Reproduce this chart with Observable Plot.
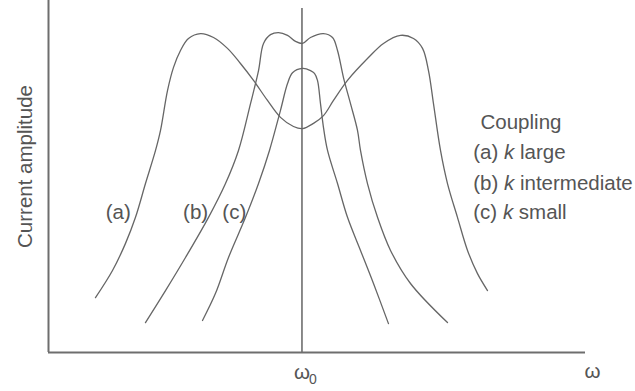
<!DOCTYPE html>
<html><head><meta charset="utf-8">
<script src="https://cdn.jsdelivr.net/npm/d3@7"></script>
<script src="https://cdn.jsdelivr.net/npm/@observablehq/plot@0.6"></script>
<style>
html,body{margin:0;padding:0;background:#fff;}
#chart svg{display:block;}
</style></head><body><div id="chart"></div>
<script>
// Frequency axis in arbitrary units (0–100), resonance at omega0
const omega0 = 47.2;
const omega0LineTop = 97.7;

// (a) k large
const omegaA = [8.75, 11.92, 14.34, 16.20, 18.06, 19.93, 20.86, 22.16, 23.28, 24.58, 26.07, 28.31, 30.73, 33.33, 35.75, 38.18, 40.78, 43.20, 45.62, 47.30, 49.35, 51.21, 53.07, 55.68, 59.40, 62.38, 65.55, 67.97, 69.65, 70.76, 71.69, 73.0, 74.30, 76.16, 78.03, 79.89, 81.75];
const ampA   = [15.6, 23.3, 31.0, 38.4, 48.0, 57.4, 63.1, 74.4, 81.0, 85.8, 89.2, 90.6, 89.5, 86.4, 82.1, 77.3, 71.6, 66.8, 64.2, 63.6, 65.1, 67.3, 71.6, 77.3, 83.5, 87.8, 90.1, 89.2, 86.4, 80.1, 70.7, 57.4, 48.0, 38.4, 29.0, 22.4, 17.6];

// (b) k intermediate
const omegaB = [18.06, 21.79, 25.51, 29.80, 32.96, 35.38, 37.62, 39.11, 40.04, 41.34, 42.83, 44.51, 46.00, 47.30, 48.79, 51.21, 52.89, 53.82, 54.93, 56.24, 57.54, 58.10, 59.40, 61.27, 63.69, 67.41, 74.30];
const ampB   = [8.5, 17.6, 27.0, 38.4, 48.0, 57.4, 70.7, 80.1, 87.8, 90.3, 90.9, 90.1, 88.4, 87.8, 89.5, 90.6, 89.5, 85.8, 78.1, 70.7, 63.1, 57.4, 48.0, 38.4, 29.0, 19.6, 8.5];

// (c) k small
const omegaC = [28.68, 31.10, 33.52, 36.69, 39.11, 41.15, 43.20, 44.51, 45.44, 47.30, 48.79, 49.53, 50.09, 50.65, 51.21, 51.96, 53.82, 55.68, 58.10, 60.52, 63.31];
const ampC   = [9.1, 16.8, 27.0, 38.4, 48.0, 57.4, 68.8, 76.4, 79.5, 80.7, 80.1, 79.3, 77.3, 70.7, 63.9, 57.4, 48.0, 38.4, 29.0, 19.6, 8.2];

// Curve labels
const curveNames = ["(a)", "(b)", "(c)"];
const curveLabelOmega = [13.0, 27.4, 34.6];
const curveLabelAmp = [37.8, 37.8, 37.8];

// Legend
const legendLines = ["Coupling", "(a) k large", "(b) k intermediate", "(c) k small"];
const legendOmega = [80.45, 79.1, 79.1, 79.1];
const legendAmp = [63.6, 55.1, 46.3, 37.8];

const yLabel = "Current amplitude";
const xLabel = "ω";
const omega0Label = "ω";
const omega0Sub = "0";

const table = [];
[[curveNames[0], omegaA, ampA], [curveNames[1], omegaB, ampB], [curveNames[2], omegaC, ampC]].forEach(([name, ws, as]) => {
  ws.forEach((w, i) => table.push({curve: name, omega: w, amp: as[i]}));
});
const labelTable = curveNames.map((t, i) => ({t, omega: curveLabelOmega[i], amp: curveLabelAmp[i]}));
const legendTable = legendLines.map((t, i) => ({t, omega: legendOmega[i], amp: legendAmp[i]}));

const lineColor = "#666";
const textColor = "#555";
const fs = 20.5;

const chart = Plot.plot({
  width: 635,
  height: 391,
  marginLeft: 48,
  marginRight: 50,
  marginTop: 0,
  marginBottom: 39,
  x: {domain: [0, 100], axis: null},
  y: {domain: [0, 100], axis: null},
  style: {fontFamily: "'Liberation Sans', Arial, sans-serif", fontSize: fs + "px", background: "#fff", color: textColor},
  marks: [
    Plot.ruleX([0], {stroke: "#6e6e6e", strokeWidth: 2}),
    Plot.ruleY([0], {stroke: "#6e6e6e", strokeWidth: 2}),
    Plot.ruleX([omega0], {y1: 0, y2: omega0LineTop, stroke: "#6e6e6e", strokeWidth: 1.6}),
    Plot.line(table, {x: "omega", y: "amp", z: "curve", curve: "catmull-rom", stroke: lineColor, strokeWidth: 1.3}),
    Plot.text(labelTable, {x: "omega", y: "amp", text: "t", textAnchor: "middle", lineAnchor: "bottom", fill: textColor, fontSize: fs}),
    Plot.text(legendTable, {x: "omega", y: "amp", text: "t", textAnchor: "start", lineAnchor: "bottom", fill: textColor, fontSize: fs, className: "legend-text"}),
    Plot.text([yLabel], {text: d => d, frameAnchor: "left", rotate: -90, dx: -17, dy: -10, lineAnchor: "bottom", textAnchor: "middle", fill: textColor, fontSize: fs}),
    Plot.text([{t: omega0Label, omega: omega0, amp: 0}], {x: "omega", y: "amp", text: "t", dy: 26, lineAnchor: "bottom", textAnchor: "middle", fill: textColor, fontSize: fs}),
    Plot.text([{t: omega0Sub, omega: omega0, amp: 0}], {x: "omega", y: "amp", text: "t", dx: 7, dy: 31, lineAnchor: "bottom", textAnchor: "start", fill: textColor, fontSize: 14}),
    Plot.text([{t: xLabel, omega: 100, amp: 0}], {x: "omega", y: "amp", text: "t", dx: 7, dy: 25, lineAnchor: "bottom", textAnchor: "middle", fill: textColor, fontSize: fs})
  ]
});

// italic "k" in legend lines
chart.querySelectorAll(".legend-text text").forEach(el => {
  const m = el.textContent.match(/^(\(\w\) )k( .+)$/);
  if (!m) return;
  el.textContent = "";
  el.appendChild(document.createTextNode(m[1]));
  const ts = document.createElementNS("http://www.w3.org/2000/svg", "tspan");
  ts.setAttribute("font-style", "italic");
  ts.textContent = "k";
  el.appendChild(ts);
  el.appendChild(document.createTextNode(m[2]));
});

document.getElementById("chart").appendChild(chart);
</script>
</body></html>
